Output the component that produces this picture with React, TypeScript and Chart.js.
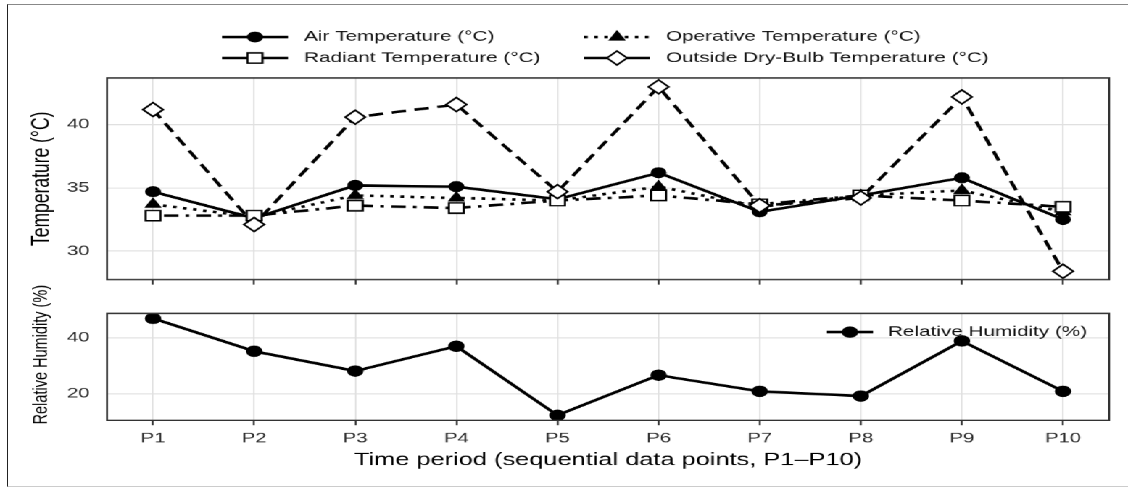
import React, { useEffect, useRef } from 'react';
import { Chart, registerables } from 'chart.js';

Chart.register(...registerables);

// ---------------- data ----------------
const periods = ['P1', 'P2', 'P3', 'P4', 'P5', 'P6', 'P7', 'P8', 'P9', 'P10'];
const airTemp = [34.7, 32.6, 35.2, 35.1, 34.1, 36.2, 33.1, 34.4, 35.8, 32.5];
const operativeTemp = [33.7, 32.7, 34.4, 34.2, 34.0, 35.1, 33.5, 34.4, 34.8, 33.1];
const radiantTemp = [32.8, 32.8, 33.6, 33.4, 34.0, 34.4, 33.7, 34.4, 34.0, 33.5];
const outsideTemp = [41.2, 32.1, 40.6, 41.6, 34.7, 43.0, 33.6, 34.2, 42.2, 28.4];
const relHumidity = [47.0, 35.2, 28.1, 37.0, 12.2, 26.6, 20.8, 19.1, 38.9, 20.8];
const tempTicks = [30, 35, 40];
const rhTicks = [20, 40];

// ---------------- layout ----------------
const W = 778; // logical width, stretched horizontally to 1128
const S = 1128 / W;
const FONT = "'Liberation Sans', Arial, Helvetica, sans-serif";
const GRID = '#e0e0e0';
const TICK_TEXT = '#2a2a2a';
const LW = 2.6;
const AREA_LEFT = 73.8;
const AREA_RIGHT = 764.9;
const X_MIN = 0.545;
const X_MAX = 10.455;
const BOT_TOP = 280; // page y of bottom canvas

type Series = {
  label: string;
  data: number[];
  dash: number[];
  legendDash: number[];
  style: string;
  r: number;
  fill: string;
  bw: number;
  pointOrder: number;
};

const series: Series[] = [
  { label: 'Air Temperature (°C)', data: airTemp, dash: [], legendDash: [], style: 'circle', r: 5, fill: '#000', bw: 1, pointOrder: 3 },
  { label: 'Operative Temperature (°C)', data: operativeTemp, dash: [2.5, 4.5], legendDash: [2.5, 4.5], style: 'triangle', r: 6, fill: '#000', bw: 1, pointOrder: 2 },
  { label: 'Radiant Temperature (°C)', data: radiantTemp, dash: [2.5, 5, 10, 5], legendDash: [], style: 'rect', r: 7.3, fill: '#fff', bw: 1.5, pointOrder: 1 },
  { label: 'Outside Dry-Bulb Temperature (°C)', data: outsideTemp, dash: [10, 6], legendDash: [], style: 'rectRot', r: 7, fill: '#fff', bw: 1.5, pointOrder: 0 },
];
// legend placement [column,row] per series
const legendPlace = [[0, 0], [1, 0], [0, 1], [1, 1]];

const toXY = (arr: number[]) => arr.map((v, i) => ({ x: i + 1, y: v }));

function drawMarker(ctx: CanvasRenderingContext2D, style: string, x: number, y: number, r: number, fill: string, bw: number) {
  ctx.save();
  ctx.setLineDash([]);
  ctx.beginPath();
  if (style === 'circle') {
    ctx.arc(x, y, r, 0, Math.PI * 2);
  } else if (style === 'triangle') {
    let rad = 0;
    ctx.moveTo(x + Math.sin(rad) * r, y - Math.cos(rad) * r);
    rad += (2 * Math.PI) / 3;
    ctx.lineTo(x + Math.sin(rad) * r, y - Math.cos(rad) * r);
    rad += (2 * Math.PI) / 3;
    ctx.lineTo(x + Math.sin(rad) * r, y - Math.cos(rad) * r);
    ctx.closePath();
  } else if (style === 'rect') {
    const s = Math.SQRT1_2 * r;
    ctx.rect(x - s, y - s, 2 * s, 2 * s);
  } else {
    ctx.moveTo(x - r, y);
    ctx.lineTo(x, y - r);
    ctx.lineTo(x + r, y);
    ctx.lineTo(x, y + r);
    ctx.closePath();
  }
  ctx.fillStyle = fill;
  ctx.fill();
  ctx.lineWidth = bw;
  ctx.strokeStyle = '#000';
  ctx.stroke();
  ctx.restore();
}

const panelBorder = {
  id: 'panelBorder',
  afterDraw(chart: any) {
    const { ctx, chartArea: a } = chart;
    ctx.save();
    ctx.strokeStyle = '#333';
    ctx.lineWidth = 1.4;
    ctx.setLineDash([]);
    ctx.strokeRect(a.left, a.top, a.right - a.left, a.bottom - a.top);
    ctx.restore();
  },
};

const topLegend = {
  id: 'topLegend',
  afterDraw(chart: any) {
    const ctx: CanvasRenderingContext2D = chart.ctx;
    const cols = [
      { l: 153.1, r: 198.6, t: 209.7 },
      { l: 402.8, r: 448.3, t: 459.3 },
    ];
    const rows = [37, 58];
    ctx.save();
    series.forEach((s, i) => {
      const [c, rw] = legendPlace[i];
      const col = cols[c];
      const y = rows[rw];
      ctx.beginPath();
      ctx.setLineDash(s.legendDash);
      ctx.lineWidth = LW;
      ctx.strokeStyle = '#000';
      ctx.moveTo(col.l, y);
      ctx.lineTo(col.r, y);
      ctx.stroke();
      drawMarker(ctx, s.style, (col.l + col.r) / 2, y, s.r, s.fill, s.bw);
      ctx.setLineDash([]);
      ctx.fillStyle = '#111';
      ctx.font = `14.3px ${FONT}`;
      ctx.textAlign = 'left';
      ctx.textBaseline = 'middle';
      ctx.fillText(s.label, col.t, y);
    });
    ctx.restore();
  },
};

const bottomExtras = {
  id: 'bottomExtras',
  afterDraw(chart: any) {
    const ctx: CanvasRenderingContext2D = chart.ctx;
    ctx.save();
    // legend inside panel
    const y = 332 - BOT_TOP;
    ctx.beginPath();
    ctx.setLineDash([]);
    ctx.lineWidth = LW;
    ctx.strokeStyle = '#000';
    ctx.moveTo(570.3, y);
    ctx.lineTo(602.1, y);
    ctx.stroke();
    drawMarker(ctx, 'circle', 586.2, y, 5.2, '#000', 1);
    ctx.fillStyle = '#111';
    ctx.font = `14.3px ${FONT}`;
    ctx.textAlign = 'left';
    ctx.textBaseline = 'middle';
    ctx.fillText('Relative Humidity (%)', 612.4, y);
    // y axis title
    ctx.translate(28.3, 354.5 - BOT_TOP);
    ctx.rotate(-Math.PI / 2);
    ctx.textAlign = 'center';
    ctx.fillStyle = '#000';
    ctx.font = `14.5px ${FONT}`;
    ctx.fillText('Relative Humidity (%)', 0, 0);
    ctx.restore();
  },
};

function xScale(showLabels: boolean, height: number) {
  return {
    type: 'linear',
    min: X_MIN,
    max: X_MAX,
    afterBuildTicks: (s: any) => {
      s.ticks = periods.map((_, i) => ({ value: i + 1 }));
    },
    ticks: {
      display: showLabels,
      autoSkip: false,
      maxRotation: 0,
      padding: 4.6,
      color: TICK_TEXT,
      font: { family: FONT, size: 14 },
      callback: (v: number) => periods[Math.round(v) - 1] ?? '',
    },
    grid: { color: GRID, lineWidth: 1, drawTicks: true, tickLength: 5, tickColor: '#333', tickWidth: 1.3 },
    border: { display: false },
    title: showLabels
      ? {
          display: true,
          text: 'Time period (sequential data points, P1–P10)',
          color: '#000',
          font: { family: FONT, size: 17.5 },
          padding: { top: 0, bottom: 17.5 },
        }
      : { display: false },
    afterFit: (s: any) => {
      s.height = height;
    },
  };
}

function yScale(min: number, max: number, ticks: number[], title: any) {
  return {
    min,
    max,
    afterBuildTicks: (s: any) => {
      s.ticks = ticks.map((v) => ({ value: v }));
    },
    ticks: { color: TICK_TEXT, padding: 12, font: { family: FONT, size: 14 } },
    grid: { color: GRID, lineWidth: 1, drawTicks: false },
    border: { display: false },
    title,
    afterFit: (s: any) => {
      s.width = AREA_LEFT - 10;
    },
  };
}

export default function App() {
  const topRef = useRef<HTMLCanvasElement>(null);
  const botRef = useRef<HTMLCanvasElement>(null);

  useEffect(() => {
    const c1 = topRef.current!;
    const c2 = botRef.current!;
    const botH = 488 - BOT_TOP;
    c1.width = W;
    c1.height = 300;
    c2.width = W;
    c2.height = botH;
    c1.style.width = '';
    c1.style.height = '';
    c2.style.width = '';
    c2.style.height = '';

    const lineDs = series.map((s, i) => ({
      type: 'line',
      label: s.label,
      data: toXY(s.data),
      borderColor: '#000',
      borderWidth: LW,
      borderDash: s.dash,
      borderJoinStyle: 'round',
      pointRadius: 0,
      fill: false,
      tension: 0,
      order: 10 + i,
    }));
    const pointDs = series.map((s) => ({
      type: 'line',
      label: s.label + ' points',
      data: toXY(s.data),
      showLine: false,
      pointStyle: s.style,
      pointRadius: s.r,
      pointHoverRadius: s.r,
      pointBackgroundColor: s.fill,
      pointBorderColor: '#000',
      pointBorderWidth: s.bw,
      order: s.pointOrder,
    }));

    const common = {
      responsive: false,
      animation: false,
      devicePixelRatio: S,
      events: [],
      plugins: { legend: { display: false }, tooltip: { enabled: false } },
    };

    const ch1 = new Chart(c1, {
      type: 'line',
      data: { datasets: [...lineDs, ...pointDs] as any },
      options: {
        ...common,
        layout: { padding: { left: 10, right: W - AREA_RIGHT, top: 78, bottom: 0 } },
        scales: {
          x: xScale(false, 10),
          y: yScale(27.74, 43.7, tempTicks, {
            display: true,
            text: 'Temperature (°C)',
            color: '#000',
            font: { family: FONT, size: 17.5 },
            padding: { top: 8.8, bottom: 0 },
          }),
        },
      } as any,
      plugins: [panelBorder, topLegend],
    });

    const ch2 = new Chart(c2, {
      type: 'line',
      data: {
        datasets: [
          {
            label: 'Relative Humidity (%)',
            data: toXY(relHumidity),
            borderColor: '#000',
            borderWidth: LW,
            borderJoinStyle: 'round',
            pointStyle: 'circle',
            pointRadius: 5.2,
            pointHoverRadius: 5.2,
            pointBackgroundColor: '#000',
            pointBorderColor: '#000',
            pointBorderWidth: 1,
            fill: false,
            tension: 0,
          },
        ] as any,
      },
      options: {
        ...common,
        layout: { padding: { left: 10, right: W - AREA_RIGHT, top: 313.3 - BOT_TOP, bottom: 0 } },
        scales: {
          x: xScale(true, 488 - 420),
          y: yScale(10.4, 48.8, rhTicks, { display: false }),
        },
      } as any,
      plugins: [panelBorder, bottomExtras],
    });

    return () => {
      ch1.destroy();
      ch2.destroy();
    };
  }, []);

  return (
    <div style={{ position: 'absolute', left: 0, top: 0, width: 1128, height: 488, overflow: 'hidden', background: '#fff' }}>
      <div
        style={{
          position: 'absolute',
          left: 7,
          top: 4,
          width: 1121,
          height: 483,
          boxSizing: 'border-box',
          borderLeft: '1px solid #222',
          borderTop: '1px solid #888',
          borderBottom: '1px solid #ccc',
        }}
      />
      <div
        style={{
          position: 'absolute',
          left: 0,
          top: 0,
          width: W,
          height: 488,
          transform: `scaleX(${S})`,
          transformOrigin: '0 0',
        }}
      >
        <canvas ref={topRef} width={W} height={300} style={{ position: 'absolute', left: 0, top: 0 }} />
        <canvas ref={botRef} width={W} height={488 - BOT_TOP} style={{ position: 'absolute', left: 0, top: BOT_TOP }} />
      </div>
    </div>
  );
}
